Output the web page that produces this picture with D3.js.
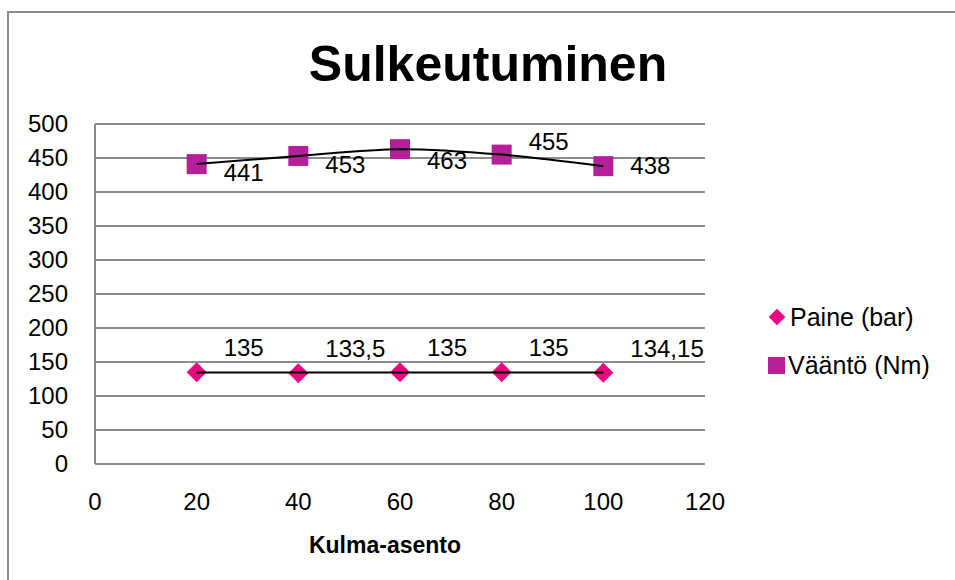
<!DOCTYPE html>
<meta charset="utf-8">
<style>
body { margin: 0; background: #fff; }
svg { display: block; font-family: "Liberation Sans", Arial, sans-serif; }
</style>
<body>
<svg id="chart" width="955" height="580"></svg>
<script src="https://cdnjs.cloudflare.com/ajax/libs/d3/7.8.5/d3.min.js"></script>
<script>

// data
var angles = [20, 40, 60, 80, 100];
var paine = [135, 133.5, 135, 135, 134.15];
var vaanto = [441, 453, 463, 455, 438];
var paineLabels = ["135", "133,5", "135", "135", "134,15"];
var vaantoLabels = ["441", "453", "463", "455", "438"];
var xTicks = [0, 20, 40, 60, 80, 100, 120];
var yTicks = [0, 50, 100, 150, 200, 250, 300, 350, 400, 450, 500];

// label vertical offsets (excel put them all over the place)
var vaantoDy = [17, 17, 20, -5, 8];

var pink = "#e8087f", purple = "#b5209a", grid = "#8c8c8c";

var svg = d3.select("#chart");

// chart frame
svg.append("path")
  .attr("d", "M8,580 L8,12 L955,12")
  .attr("fill", "none")
  .attr("stroke", grid)
  .attr("stroke-width", 2);

var x = d3.scaleLinear().domain([0, 120]).range([95, 705]);
var y = d3.scaleLinear().domain([0, 500]).range([464, 124]);

// gridlines
svg.append("g").selectAll("line")
  .data(yTicks)
  .enter().append("line")
  .attr("x1", x(0)).attr("x2", x(120))
  .attr("y1", function(d) { return y(d); })
  .attr("y2", function(d) { return y(d); })
  .attr("stroke", grid)
  .attr("stroke-width", 2);

svg.append("line")
  .attr("x1", x(0)).attr("x2", x(0))
  .attr("y1", y(0)).attr("y2", y(500))
  .attr("stroke", grid)
  .attr("stroke-width", 2);

// tick labels
svg.append("g").selectAll("text")
  .data(yTicks)
  .enter().append("text")
  .attr("x", 68)
  .attr("y", function(d) { return y(d) + 8; })
  .attr("text-anchor", "end")
  .attr("font-size", 24)
  .text(function(d) { return d; });

svg.append("g").selectAll("text")
  .data(xTicks)
  .enter().append("text")
  .attr("x", function(d) { return x(d); })
  .attr("y", 510)
  .attr("text-anchor", "middle")
  .attr("font-size", 24)
  .text(function(d) { return d; });

// titles
svg.append("text")
  .attr("x", 488).attr("y", 81)
  .attr("text-anchor", "middle")
  .attr("font-size", 50)
  .attr("font-weight", "bold")
  .text("Sulkeutuminen");

svg.append("text")
  .attr("x", 385).attr("y", 553)
  .attr("text-anchor", "middle")
  .attr("font-size", 23)
  .attr("font-weight", "bold")
  .text("Kulma-asento");

// markers
var diamond = d3.symbol().type(d3.symbolSquare).size(200);

svg.append("g").selectAll("path")
  .data(angles)
  .enter().append("path")
  .attr("d", diamond)
  .attr("transform", function(d, i) { return "translate(" + x(d) + "," + y(paine[i]) + ") rotate(45)"; })
  .attr("fill", pink);

svg.append("g").selectAll("rect")
  .data(angles)
  .enter().append("rect")
  .attr("x", function(d) { return x(d) - 10; })
  .attr("y", function(d, i) { return y(vaanto[i]) - 10; })
  .attr("width", 20).attr("height", 20)
  .attr("fill", purple);

// black lines on top of the markers
var line = d3.line()
  .x(function(d) { return x(d[0]); })
  .y(function(d) { return y(d[1]); });

// paine gets a straight least squares line (looks flat in the original)
var mx = d3.mean(angles), my = d3.mean(paine);
var slope = d3.sum(angles, function(a, i) { return (a - mx) * (paine[i] - my); }) /
            d3.sum(angles, function(a) { return (a - mx) * (a - mx); });
var fit = [angles[0], angles[angles.length - 1]].map(function(a) {
  return [a, my + slope * (a - mx)];
});

svg.append("path")
  .datum(fit)
  .attr("d", line)
  .attr("fill", "none")
  .attr("stroke", "#000")
  .attr("stroke-width", 2);

svg.append("path")
  .datum(d3.zip(angles, vaanto))
  .attr("d", line.curve(d3.curveCardinal.tension(0)))
  .attr("fill", "none")
  .attr("stroke", "#000")
  .attr("stroke-width", 2);

// data labels
svg.append("g").selectAll("text")
  .data(angles)
  .enter().append("text")
  .attr("x", function(d) { return x(d) + 27; })
  .attr("y", function(d, i) { return y(paine[i]) - 16; })
  .attr("font-size", 24)
  .text(function(d, i) { return paineLabels[i]; });

svg.append("g").selectAll("text")
  .data(angles)
  .enter().append("text")
  .attr("x", function(d) { return x(d) + 27; })
  .attr("y", function(d, i) { return y(vaanto[i]) + vaantoDy[i]; })
  .attr("font-size", 24)
  .text(function(d, i) { return vaantoLabels[i]; });

// legend
var legend = svg.append("g");
legend.append("path")
  .attr("d", d3.symbol().type(d3.symbolSquare).size(140))
  .attr("transform", "translate(777,317) rotate(45)")
  .attr("fill", pink);
legend.append("text")
  .attr("x", 790).attr("y", 326)
  .attr("font-size", 25)
  .text("Paine (bar)");
legend.append("rect")
  .attr("x", 768).attr("y", 357)
  .attr("width", 17).attr("height", 17)
  .attr("fill", purple);
legend.append("text")
  .attr("x", 788).attr("y", 374)
  .attr("font-size", 25)
  .text("Vääntö (Nm)");

</script>
